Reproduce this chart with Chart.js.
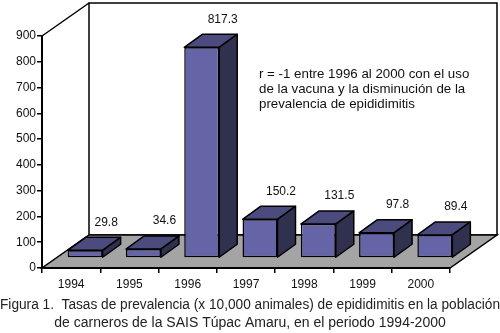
<!DOCTYPE html>
<html>
<head>
<meta charset="utf-8">
<script src="https://cdn.jsdelivr.net/npm/chart.js@4.4.1/dist/chart.umd.min.js"></script>
<style>
  html, body { margin: 0; padding: 0; background: #fff; }
  canvas { display: block; }
</style>
</head>
<body>
<canvas id="prevChart" width="500" height="333"></canvas>
<script>
const years = ["1994", "1995", "1996", "1997", "1998", "1999", "2000"];
const prevalence = [29.8, 34.6, 817.3, 150.2, 131.5, 97.8, 89.4];
const yMax = 900;
const yStep = 100;

const noteLines = [
  "r = -1 entre 1996 al 2000 con el uso",
  "de la vacuna y la disminución de la",
  "prevalencia de epididimitis",
];
const caption = [
  "Figura 1.  Tasas de prevalencia (x 10,000 animales) de epididimitis en la población",
  "de carneros de la SAIS Túpac Amaru, en el periodo 1994-2000",
];

const FONT = "'Liberation Sans', Arial, sans-serif";

// depth of the box and of the bars
const WALL = { dx: 47, dy: -33 };
const SHIFT = { dx: 14, dy: -10 };
const DEPTH = { dx: 18, dy: -13 };

const box3d = {
  id: "box3d",
  beforeDraw(chart) {
    const ctx = chart.ctx;
    const a = chart.chartArea;
    ctx.save();
    ctx.lineWidth = 1.5;
    ctx.strokeStyle = "#000";
    ctx.lineJoin = "miter";
    // back wall
    ctx.fillStyle = "#fff";
    ctx.beginPath();
    ctx.rect(a.left + WALL.dx, a.top + WALL.dy, a.right - a.left, a.bottom - a.top);
    ctx.fill();
    ctx.stroke();
    // floor
    ctx.fillStyle = "#a4a4a4";
    ctx.beginPath();
    ctx.moveTo(a.left, a.bottom);
    ctx.lineTo(a.right, a.bottom);
    ctx.lineTo(a.right + WALL.dx, a.bottom + WALL.dy);
    ctx.lineTo(a.left + WALL.dx, a.bottom + WALL.dy);
    ctx.closePath();
    ctx.fill();
    ctx.stroke();
    // side wall top edge
    ctx.beginPath();
    ctx.moveTo(a.left, a.top);
    ctx.lineTo(a.left + WALL.dx, a.top + WALL.dy);
    ctx.stroke();
    ctx.restore();
  },
  beforeDatasetDraw(chart) {
    chart.ctx.save();
    chart.ctx.translate(SHIFT.dx, SHIFT.dy);
  },
  afterDatasetDraw(chart, args) {
    const ctx = chart.ctx;
    ctx.lineWidth = 1.5;
    ctx.strokeStyle = "#000";
    ctx.lineJoin = "round";
    args.meta.data.forEach((bar) => {
      const l = bar.x - bar.width / 2;
      const r = bar.x + bar.width / 2;
      const t = bar.y;
      const b = bar.base;
      // top face
      ctx.fillStyle = "#4b4b7e";
      ctx.beginPath();
      ctx.moveTo(l, t);
      ctx.lineTo(l + DEPTH.dx, t + DEPTH.dy);
      ctx.lineTo(r + DEPTH.dx, t + DEPTH.dy);
      ctx.lineTo(r, t);
      ctx.closePath();
      ctx.fill();
      ctx.stroke();
      // side face
      ctx.fillStyle = "#30304f";
      ctx.beginPath();
      ctx.moveTo(r, t);
      ctx.lineTo(r + DEPTH.dx, t + DEPTH.dy);
      ctx.lineTo(r + DEPTH.dx, b + DEPTH.dy);
      ctx.lineTo(r, b);
      ctx.closePath();
      ctx.fill();
      ctx.stroke();
    });
    ctx.restore();

    // value labels
    ctx.save();
    ctx.fillStyle = "#111";
    ctx.font = "12px " + FONT;
    ctx.textAlign = "center";
    ctx.textBaseline = "middle";
    args.meta.data.forEach((bar, i) => {
      ctx.fillText(prevalence[i].toFixed(1), bar.x + 35, bar.y - 38);
    });
    ctx.restore();
  },
  afterDraw(chart) {
    const ctx = chart.ctx;
    ctx.save();
    ctx.fillStyle = "#111";
    ctx.font = "13.3px " + FONT;
    ctx.textBaseline = "middle";
    noteLines.forEach((line, i) => {
      ctx.fillText(line, 259, 74 + i * 15);
    });
    ctx.restore();
  },
};

const data = {
  labels: years,
  datasets: [
    {
      data: prevalence,
      backgroundColor: "#6464a6",
      borderColor: "#000",
      borderWidth: 1.5,
      borderSkipped: false,
      barPercentage: 0.6,
      categoryPercentage: 1,
    },
  ],
};

const config = {
  type: "bar",
  data: data,
  options: {
    responsive: false,
    animation: false,
    devicePixelRatio: 1,
    layout: { padding: { top: 36, right: 0, left: 0, bottom: 0 } },
    scales: {
      x: {
        grid: { offset: true, drawOnChartArea: false, tickLength: 5, color: "#000", lineWidth: 1.5 },
        border: { color: "#000", width: 2 },
        ticks: { color: "#111", font: { family: FONT, size: 12 }, padding: 4 },
        afterFit: (s) => { s.height = 28; },
      },
      y: {
        min: 0,
        max: yMax,
        grid: { drawOnChartArea: false, tickLength: 5, color: "#000", lineWidth: 1.5 },
        border: { color: "#000", width: 2 },
        ticks: { stepSize: yStep, color: "#111", font: { family: FONT, size: 12 }, padding: 1 },
        afterFit: (s) => { s.width = 42; },
      },
      // empty axis that keeps room on the right for the depth of the box
      depth: {
        position: "right",
        grid: { display: false },
        border: { display: false },
        ticks: { display: false },
        afterFit: (s) => { s.width = 50; },
      },
    },
    plugins: {
      legend: { display: false },
      tooltip: { enabled: false },
      title: {
        display: true,
        position: "bottom",
        text: caption,
        color: "#222",
        font: { family: FONT, size: 14, weight: "normal", lineHeight: "18px" },
        padding: { top: 0, bottom: 1 },
      },
    },
  },
  plugins: [box3d],
};

let myChart = new Chart(document.getElementById("prevChart"), config);
</script>
</body>
</html>
